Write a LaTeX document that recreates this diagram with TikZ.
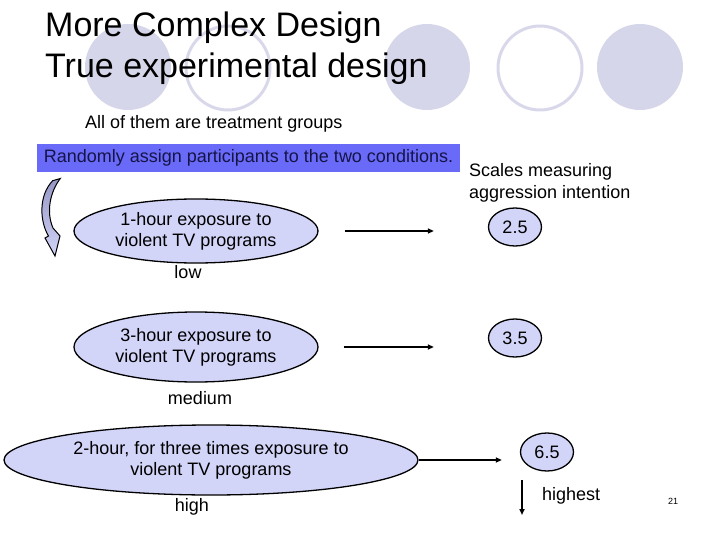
\documentclass[tikz,border=0pt]{standalone}
\usepackage{fontspec}
\setmainfont{Liberation Sans}
\usetikzlibrary{shapes.geometric,arrows.meta}
\definecolor{ringfill}{RGB}{214,214,234}
\definecolor{ringline}{RGB}{216,216,234}
\definecolor{boxblue}{RGB}{106,106,248}
\definecolor{boxtext}{RGB}{20,20,70}
\definecolor{groupfill}{RGB}{210,212,248}
\definecolor{bendtop}{RGB}{150,150,196}

\begin{document}
\begin{tikzpicture}[x=1pt, y=-1pt,
    body/.style={font=\fontsize{18}{22}\selectfont, inner sep=0pt},
    headline/.style={font=\fontsize{34}{41}\selectfont, inner sep=0pt, anchor=base west},
    group/.style={ellipse, draw=black, line width=1.3pt, fill=groupfill, align=center,
        inner sep=0pt, font=\fontsize{18}{21}\selectfont},
    score/.style={ellipse, draw=black, line width=1.3pt, fill=groupfill,
        minimum width=53pt, minimum height=38pt, inner sep=0pt, font=\fontsize{18}{22}\selectfont},
    arr/.style={line width=1.5pt, -{Triangle[length=6pt,width=5pt]}}]
    %%%%% START %%%%%
    \useasboundingbox (0,0) rectangle (720,540);

    % circles behind the title
    \fill[ringfill] (128,67) circle[radius=43pt];
    \draw[ringline, line width=3pt] (228,68) circle[radius=42pt];
    \fill[ringfill] (427,67) circle[radius=43pt];
    \draw[ringline, line width=3pt] (540,68) circle[radius=42pt];
    \fill[ringfill] (640,67) circle[radius=43pt];

    \node[headline] (title1) at (45,37) {More Complex Design};
    \node[headline] (title2) at (45,78) {True experimental design};
    \node[body, anchor=base west] (allof) at (85,129) {All of them are treatment groups};

    \node[body, fill=boxblue, text=boxtext, minimum width=423pt, minimum height=28pt] (assign)
        at (248.5,158) {Randomly assign participants to the two conditions.};
    \node[body, anchor=base west, align=left] (scales) at (469,199)
        {Scales measuring\\aggression intention};

    % curved arrow
    \draw[line width=1pt, top color=bendtop, bottom color=groupfill]
        (52.7,180.7) -- (60.3,178.5) .. controls (50,192) and (46,212) .. (53,228)
        -- (60,236) -- (55,256) -- (45,238) -- (48.5,236)
        .. controls (40,222) and (38,196) .. (52.7,180.7) -- cycle;

    % groups
    \node[group, minimum width=244pt, minimum height=64pt] (low) at (196,231)
        {1-hour exposure to\\violent TV programs};
    \node[group, minimum width=244pt, minimum height=70pt] (medium) at (196,347)
        {3-hour exposure to\\violent TV programs};
    \node[group, minimum width=414pt, minimum height=70pt] (high) at (211,460)
        {2-hour, for three times exposure to\\violent TV programs};

    \node[body] (lowlab) at (188,272) {low};
    \node[body] (medlab) at (200,398) {medium};
    \node[body] (highlab) at (192,507) {high};

    % scores
    \node[score] (s1) at (515,227) {2.5};
    \node[score] (s2) at (515,338) {3.5};
    \node[score] (s3) at (547,452) {6.5};

    \draw[arr, shorten <=26pt, shorten >=54pt] (low.east) -- (low.east -| s1.west);
    \draw[arr, shorten <=25pt, shorten >=54pt] (medium.east) -- (medium.east -| s2.west);
    \draw[arr, shorten >=18pt] (high.east) -- (high.east -| s3.west);

    \coordinate (downtop) at (522,480);
    \coordinate (downend) at (522,515);
    \draw[arr] (downtop) -- (downend);
    \node[body, anchor=base west] (highest) at (542,500) {highest};

    \node[font=\fontsize{9}{10}\selectfont, inner sep=0pt] (pagenum) at (673,501) {21};
    %%%%% END %%%%%
\end{tikzpicture}
\end{document}
